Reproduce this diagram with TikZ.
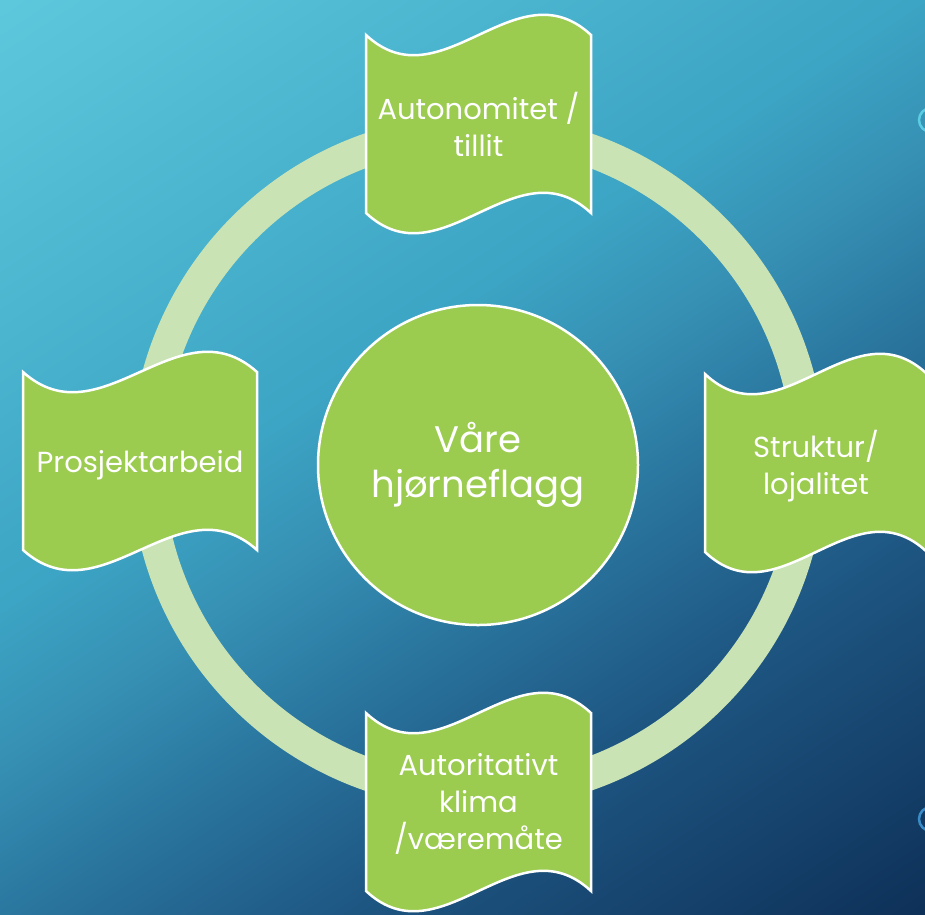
\documentclass[tikz,border=0pt]{standalone}
\usepackage{fontspec}
\setmainfont{Poppins}
\usetikzlibrary{positioning}
\definecolor{flaggreen}{HTML}{9BCB4F}
\definecolor{ringgreen}{HTML}{C9E3B5}
\definecolor{bgA}{HTML}{5DC8DC}
\definecolor{bgB}{HTML}{3CA4C4}
\definecolor{bgC}{HTML}{3690B4}
\definecolor{bgD}{HTML}{2A77A0}
\definecolor{bgE}{HTML}{1E5783}
\definecolor{bgF}{HTML}{0E3159}
\definecolor{dotcyan}{HTML}{5BCDE3}
\definecolor{dotblue}{HTML}{3A8CC8}
\pgfdeclarehorizontalshading{slidebg}{100bp}{color(0bp)=(bgA); color(15.5bp)=(bgA); color(43bp)=(bgB); color(50bp)=(bgC); color(57bp)=(bgD); color(67bp)=(bgE); color(84.5bp)=(bgF); color(100bp)=(bgF)}

\begin{document}
\begin{tikzpicture}[x=1pt,y=-1pt,
  flag/.style={draw=white,line width=2.5pt,fill=flaggreen},
  flagtext/.style={text=white,align=center,inner sep=0pt,font=\fontsize{29}{37}\selectfont},
  hub/.style={circle,draw=white,line width=2.5pt,fill=flaggreen,text=white,align=center,minimum size=320pt,font=\fontsize{37}{45}\selectfont}]
\useasboundingbox (0,0) rectangle (925,914);
\shade[shading=slidebg,shading angle=-56.5] (0,0) rectangle (925,914);
\draw[dotcyan,line width=2.5pt] (931,120) circle[radius=12pt];
\draw[dotblue,line width=2.5pt] (931,819) circle[radius=12pt];
\draw[ringgreen,line width=33pt] (478,462) circle[radius=331pt];
\foreach \fl/\ft/\fw in {366/35/225, 23/372/234, 705/374/222, 366/713/225}{%
\draw[flag] (\fl,\ft) .. controls ({\fl+\fw/3},{\ft+70}) and ({\fl+2*\fw/3},{\ft-70}) .. ({\fl+\fw},\ft)
  -- ({\fl+\fw},{\ft+178}) .. controls ({\fl+2*\fw/3},{\ft+108}) and ({\fl+\fw/3},{\ft+248}) .. (\fl,{\ft+178}) -- cycle;
}
\node[hub] (hub) at (478,465) {Våre\\hjørneflagg};
\node[flagtext] (autonomi) at (478.5,124) {Autonomitet /\\tillit};
\node[flagtext] (prosjekt) at (140,465) {Prosjektarbeid};
\node[flagtext] (struktur) at (816,466) {Struktur/\\lojalitet};
\node[flagtext] (klima) at (478.5,804) {Autoritativt\\klima\\/væremåte};
\end{tikzpicture}
\end{document}
